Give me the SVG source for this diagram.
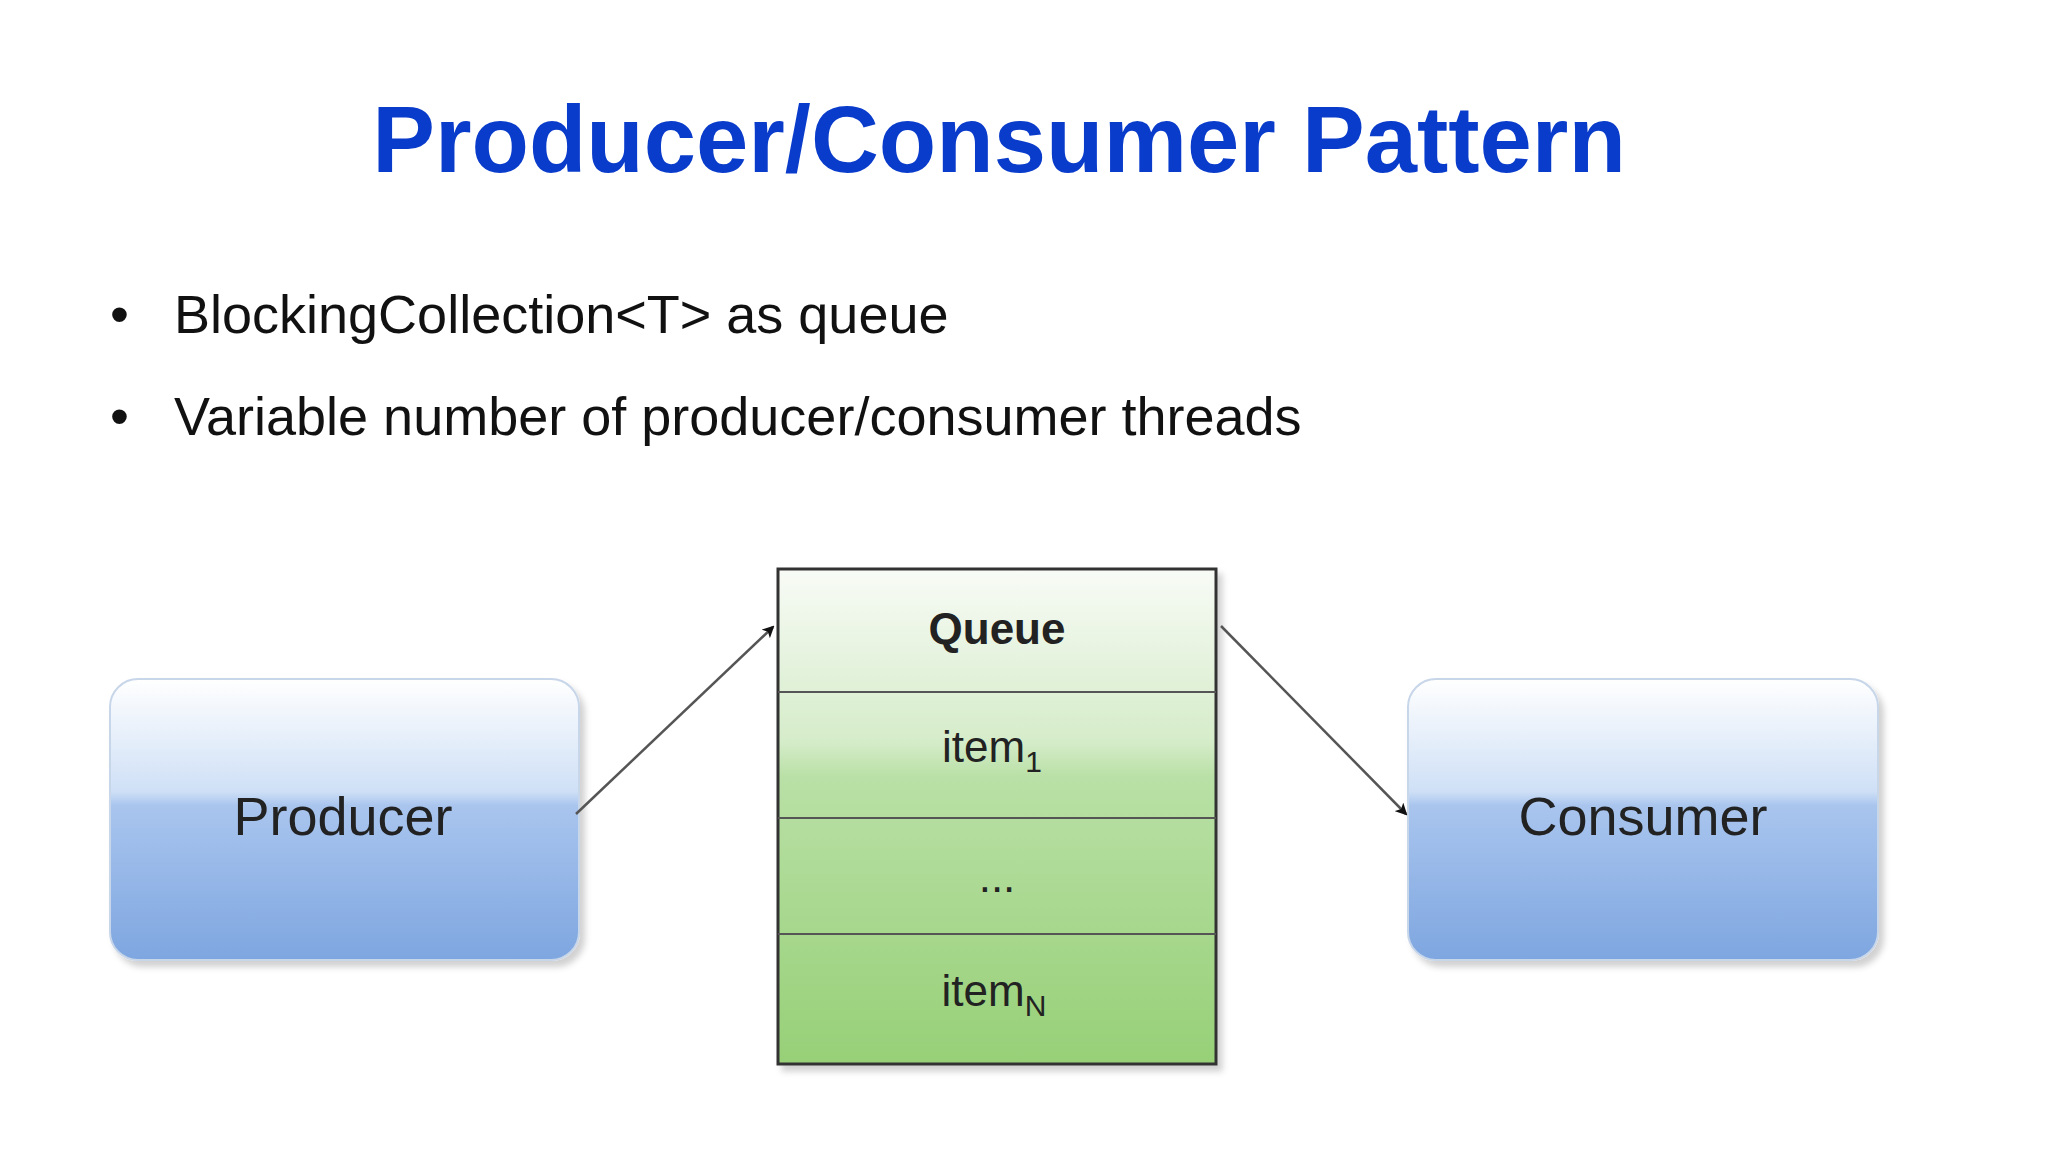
<svg xmlns="http://www.w3.org/2000/svg" width="2048" height="1152" viewBox="0 0 2048 1152">
<defs>
<style>
.t{font-family:"Liberation Sans",Arial,sans-serif}
.lbl{font-family:"Liberation Sans",Arial,sans-serif;font-size:54px;fill:#222;text-anchor:middle}
.q{font-family:"Liberation Sans",Arial,sans-serif;font-size:44px;fill:#222;text-anchor:middle}
.box{stroke:#c8d6ea;stroke-width:2}
.line{stroke:#555;stroke-width:2.5}
</style>
<linearGradient id="blue" x1="0" y1="0" x2="0" y2="1">
<stop offset="0" stop-color="#ffffff"/>
<stop offset="0.4" stop-color="#cfe0f6"/>
<stop offset="0.45" stop-color="#a9c5ee"/>
<stop offset="1" stop-color="#7ea6e0"/>
</linearGradient>
<linearGradient id="green" x1="0" y1="0" x2="0" y2="1">
<stop offset="0" stop-color="#f8fbf6"/>
<stop offset="0.35" stop-color="#d5ecc9"/>
<stop offset="0.42" stop-color="#b9e0a6"/>
<stop offset="1" stop-color="#97d077"/>
</linearGradient>
<filter id="sh" x="-10%" y="-10%" width="130%" height="130%"><feDropShadow dx="5" dy="6" stdDeviation="3" flood-color="#000" flood-opacity="0.18"/></filter>
<marker id="arr" markerWidth="12" markerHeight="12" refX="10" refY="6" orient="auto" markerUnits="userSpaceOnUse"><path d="M0,0 L12,6 L0,12 L3,6 Z" fill="#111"/></marker>
</defs>
<rect width="2048" height="1152" fill="#fff"/>
<text class="t" x="999" y="172" font-size="94" font-weight="bold" fill="#0a3ccc" text-anchor="middle">Producer/Consumer Pattern</text>
<g id="bullets" class="t" font-size="54" fill="#111">
<text x="110" y="333">•</text><text x="174" y="333">BlockingCollection&lt;T&gt; as queue</text>
<text x="110" y="435">•</text><text x="174" y="435">Variable number of producer/consumer threads</text>
</g>
<g id="producer"><rect class="box" x="110" y="679" width="469" height="281" rx="28" fill="url(#blue)" filter="url(#sh)"/><text class="lbl" x="343" y="835">Producer</text></g>
<g id="consumer"><rect class="box" x="1408" y="679" width="470" height="281" rx="28" fill="url(#blue)" filter="url(#sh)"/><text class="lbl" x="1643" y="835">Consumer</text></g>
<g id="queue">
<rect x="778" y="569" width="438" height="495" fill="url(#green)" stroke="#333" stroke-width="3" filter="url(#sh)"/>
<g stroke="#555" stroke-width="2"><line x1="778" y1="692" x2="1216" y2="692"/><line x1="778" y1="818" x2="1216" y2="818"/><line x1="778" y1="934" x2="1216" y2="934"/></g>
<text class="q" x="997" y="644" font-weight="bold">Queue</text>
<text class="q" x="992" y="762">item<tspan font-size="30" dy="10">1</tspan></text>
<text class="q" x="997" y="892">...</text>
<text class="q" x="994" y="1006">item<tspan font-size="30" dy="10">N</tspan></text>
</g>
<g id="connectors">
<line class="line" x1="576" y1="814" x2="773" y2="627" marker-end="url(#arr)"/>
<line class="line" x1="1221" y1="626" x2="1406" y2="814" marker-end="url(#arr)"/>
</g>
</svg>
